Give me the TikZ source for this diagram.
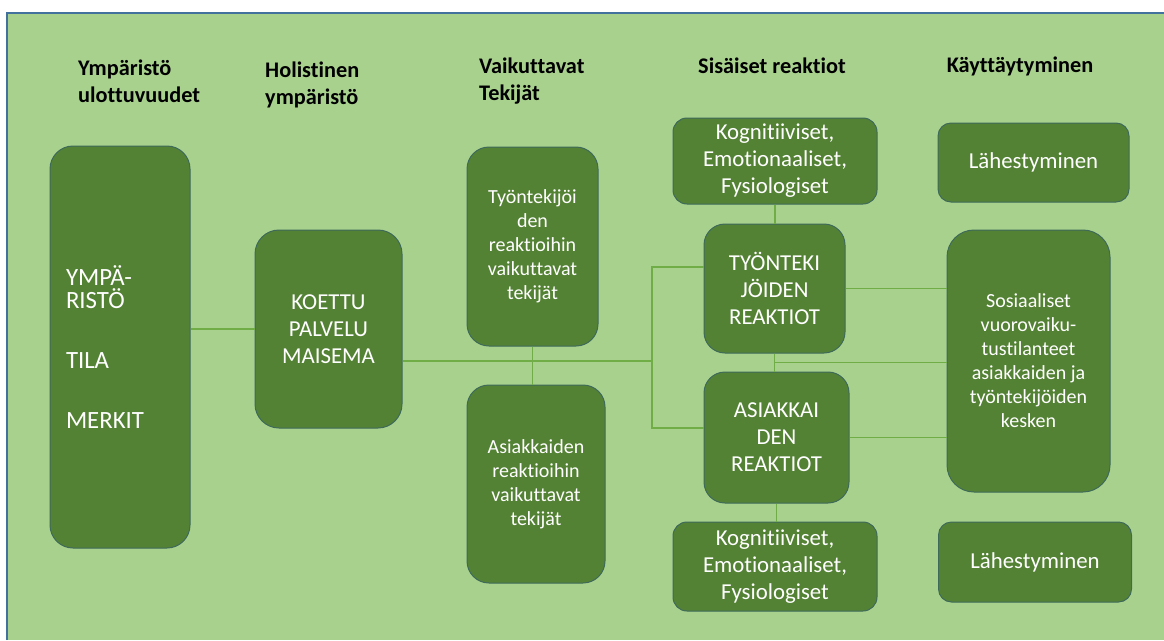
\documentclass[tikz,border=0pt]{standalone}
\usepackage{fontspec}
\setmainfont[Ligatures={NoCommon}]{Carlito}
\usepackage{xcolor}
\usepackage{tikz}
\usetikzlibrary{positioning,calc}

\definecolor{panelgreen}{HTML}{A9D18E}
\definecolor{boxgreen}{HTML}{548235}
\definecolor{linegreen}{HTML}{70AD47}
\definecolor{edgeblue}{HTML}{41719C}
\definecolor{boxedge}{HTML}{3E6A5A}

\begin{document}
\begin{tikzpicture}[x=1pt, y=-1pt,
    box/.style={draw=boxedge, line width=1pt, fill=boxgreen, text=white, align=center, inner sep=0pt, font=\fontsize{22.8}{27}\selectfont},
    smallbox/.style={box, font=\fontsize{20}{24}\selectfont},
    heading/.style={font=\bfseries\fontsize{22.3}{27}\selectfont, align=left, inner sep=0pt},
    link/.style={draw=linegreen, line width=1.5pt}
]
\useasboundingbox (0,0) rectangle (1164,640);

% Background panel
\fill[panelgreen] (7,13) rectangle (1164,640);
\draw[edgeblue, line width=1.5pt] (7,640) -- (7,13) -- (1164,13);

% Headings
\node[heading, anchor=west] (hEnv) at (78,81.5) {Ympäristö\\ulottuvuudet};
\node[heading, anchor=west] (hHol) at (265,84.5) {Holistinen\\ympäristö};
\node[heading, anchor=west] (hFac) at (479,81.5) {Vaikuttavat\\Tekijät};
\node[heading] (hInt) at (772,66) {Sisäiset reaktiot};
\node[heading] (hBeh) at (1020,66) {Käyttäytyminen};

% Boxes
\node[box, rounded corners=23pt, minimum width=140pt, minimum height=402pt, text width=108pt, inner xsep=16pt, align=left, font=\fontsize{24.8}{23}\selectfont] (env) at (120,347) {YMPÄ-\\RISTÖ\\[37pt]TILA\\[37pt]MERKIT\\[6pt]};
\node[box, rounded corners=24pt, minimum width=147pt, minimum height=198pt] (holistic) at (328.5,329) {KOETTU\\PALVELU\\MAISEMA};
\node[smallbox, rounded corners=22pt, minimum width=131pt, minimum height=199pt] (wf) at (532.5,246.5) {Työntekijöi\\den\\reaktioihin\\vaikuttavat\\tekijät};
\node[smallbox, rounded corners=22pt, minimum width=138pt, minimum height=198pt] (cf) at (536,484) {Asiakkaiden\\reaktioihin\\vaikuttavat\\tekijät};

\node[box, rounded corners=14pt, minimum width=204pt, minimum height=86pt] (kogTop) at (775,161) {Kognitiiviset,\\Emotionaaliset,\\Fysiologiset};
\node[box, rounded corners=21pt, minimum width=141pt, minimum height=129pt] (workR) at (774.5,288.5) {TYÖNTEKI\\JÖIDEN\\REAKTIOT};
\node[box, rounded corners=21pt, minimum width=145pt, minimum height=131pt] (custR) at (776.5,437.5) {ASIAKKAI\\DEN\\REAKTIOT};
\node[box, rounded corners=14pt, minimum width=204pt, minimum height=89pt] (kogBot) at (775,566.5) {Kognitiiviset,\\Emotionaaliset,\\Fysiologiset};

\node[box, rounded corners=13pt, minimum width=191pt, minimum height=79pt] (lahTop) at (1033.5,162.5) {Lähestyminen};
\node[smallbox, rounded corners=27pt, minimum width=163pt, minimum height=262pt] (social) at (1028.5,361) {Sosiaaliset\\vuorovaiku-\\tustilanteet\\asiakkaiden ja\\työntekijöiden\\kesken};
\node[box, rounded corners=13pt, minimum width=193pt, minimum height=80pt] (lahBot) at (1035,562) {Lähestyminen};

% Connectors
\coordinate (hub) at (652,361);
\coordinate (hubTop) at (652,267);
\coordinate (hubBot) at (652,428);
\coordinate (split) at ($(workR.south)!0.5!(workR.south |- custR.north)$);

\draw[link] (env.east |- holistic.west) -- (holistic.west);
\draw[link] (holistic.east |- hub) -- (hub);
\draw[link] (wf.south) -- (wf.south |- cf.north);
\draw[link] (hubTop -| workR.west) -- (hubTop) -- (hubBot) -- (hubBot -| custR.west);
\draw[link] (kogTop.south) -- (kogTop.south |- workR.north);
\draw[link] (workR.south) -- (workR.south |- custR.north);
\draw[link] (split) -- (split -| social.west);
\draw[link] (workR.east) -- (workR.east -| social.west);
\draw[link] (custR.east) -- (custR.east -| social.west);
\draw[link] (custR.south) -- (custR.south |- kogBot.north);

\end{tikzpicture}
\end{document}
